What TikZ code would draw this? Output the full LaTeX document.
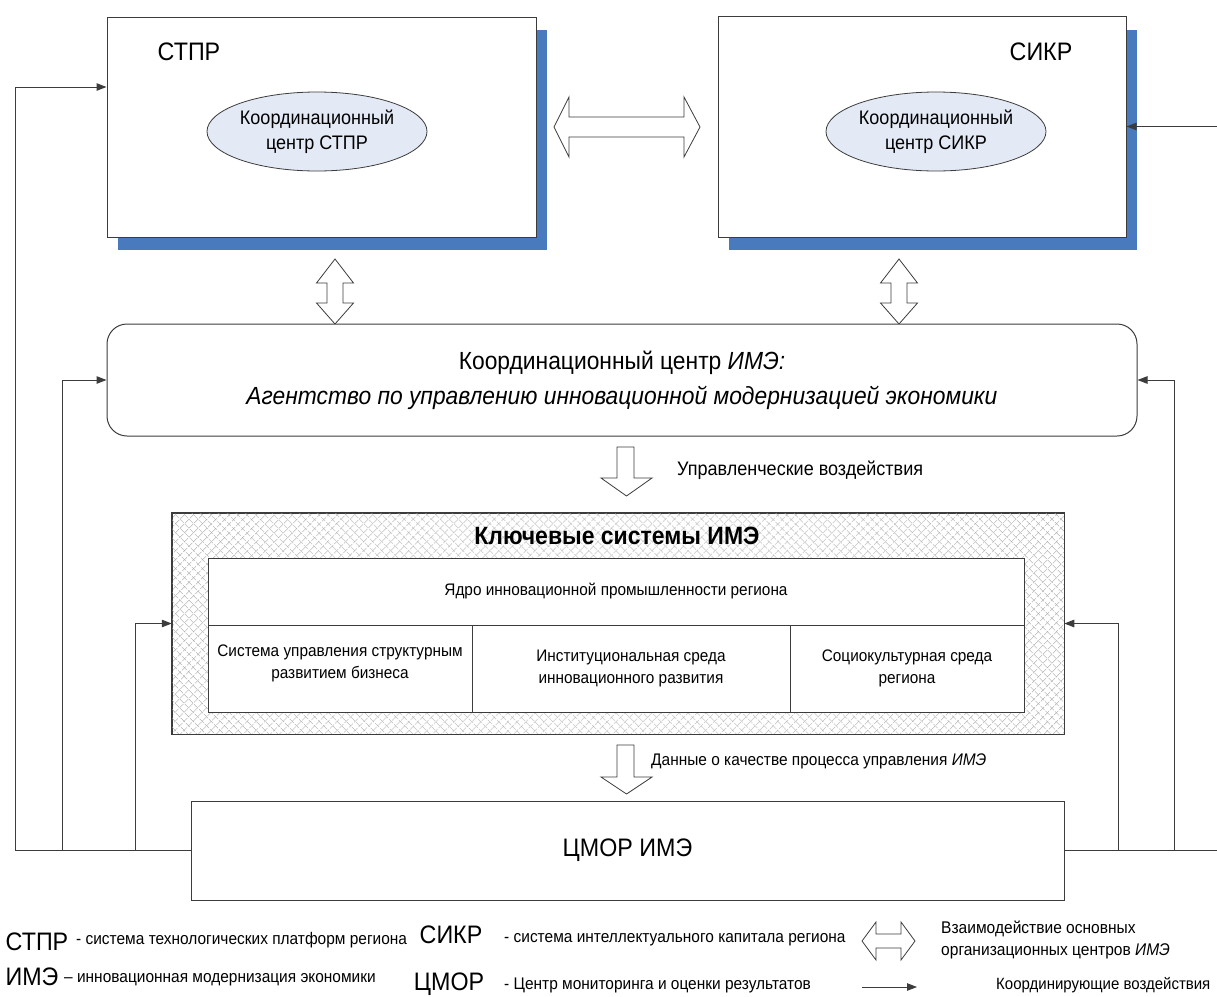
\documentclass[tikz,border=0pt]{standalone}
\usepackage{fontspec}
\setmainfont{Liberation Sans}[FakeStretch=0.92]
\usetikzlibrary{arrows.meta,shapes.geometric,patterns.meta}
\definecolor{shadowblue}{RGB}{74,122,190}
\definecolor{ellfill}{RGB}{228,234,245}
\definecolor{hatchgray}{RGB}{160,160,160}
\definecolor{linegray}{RGB}{60,60,60}
\newcommand{\fsz}[2]{\fontsize{#1}{#2}\selectfont}
\begin{document}
\begin{tikzpicture}[x=1pt,y=-1pt,
  box/.style={draw=linegray, line width=1pt, fill=white, inner sep=0pt},
  ell/.style={draw=linegray, line width=0.8pt, fill=ellfill, ellipse, inner sep=0pt, align=center, font=\fsz{19.6}{25}},
  conn/.style={draw=linegray, line width=1pt, -{Triangle[length=10pt,width=7.5pt]}},
  blockarrow/.style={draw=linegray, line width=0.8pt, fill=white, line join=miter},
  biglbl/.style={font=\fsz{25.3}{30}, inner sep=0pt},
  smalllbl/.style={font=\fsz{16.8}{20}, inner sep=0pt, anchor=west},
  celltext/.style={font=\fsz{16.7}{22}, align=center, inner sep=0pt}]
\useasboundingbox (0,0) rectangle (1217,996);

% top left system
\fill[shadowblue] (118,30) rectangle (547,250);
\node[box, minimum width=429pt, minimum height=220pt] (stpr) at (321.5,127) {};
\node[biglbl] (stprlbl) at (189,52) {СТПР};
\node[ell, minimum width=220pt, minimum height=79pt] (stprell) at (317,131.5) {Координационный\\центр СТПР};

% top right system
\fill[shadowblue] (729,30) rectangle (1137,250);
\node[box, minimum width=408pt, minimum height=221pt] (sikr) at (922,126.5) {};
\node[biglbl] (sikrlbl) at (1041,52) {СИКР};
\node[ell, minimum width=220pt, minimum height=79pt] (sikrell) at (936,131.5) {Координационный\\центр СИКР};

% horizontal double arrow
\draw[blockarrow] (554,127) -- (569,97) -- (569,117) -- (684,117) -- (684,97) -- (700,127)
  -- (684,157) -- (684,137) -- (569,137) -- (569,157) -- cycle;

% vertical double arrows
\foreach \c in {335,899}{
  \draw[blockarrow] (\c,259) -- (\c+18.5,283) -- (\c+8,283) -- (\c+8,303) -- (\c+18.5,303) -- (\c,324)
    -- (\c-18.5,303) -- (\c-8,303) -- (\c-8,283) -- (\c-18.5,283) -- cycle;
}

% coordination centre
\node[box, rounded corners=20pt, minimum width=1030pt, minimum height=112pt,
  align=center, font=\fsz{24.8}{35}] (ime) at (622,380)
  {Координационный центр \textit{ИМЭ:}\\\textit{Агентство по управлению инновационной модернизацией экономики}};

% down arrow 1
\draw[blockarrow] (617,447) -- (634,447) -- (634,478) -- (652,478) -- (626.5,496) -- (601,478) -- (617,478) -- cycle;
\node[font=\fsz{19.6}{22}, anchor=west, inner sep=0pt] (upr) at (677,470) {Управленческие воздействия};

% key systems
\node[draw=linegray, line width=1pt, minimum width=892pt, minimum height=221pt, inner sep=0pt,
  preaction={fill=white},
  pattern={Lines[angle=45,distance=6.5pt,line width=0.5pt]}, pattern color=hatchgray,
  postaction={pattern={Lines[angle=-45,distance=6.5pt,line width=0.5pt]}, pattern color=hatchgray}] (keys) at (618,623.5) {};
\draw[linegray, line width=1pt] (keys.south west) rectangle (keys.north east);
\node[font=\bfseries\fsz{25}{28}, inner sep=0pt] (keystitle) at (617,536) {Ключевые системы ИМЭ};
\node[box, minimum width=816pt, minimum height=67pt, celltext] (core) at (616,591.5) {Ядро инновационной промышленности региона};
\node[box, minimum width=264pt, minimum height=87pt] (c1) at (340,668.5) {};
\node[celltext] (c1t) at (340,663) {Система управления структурным\\развитием бизнеса};
\node[box, minimum width=318pt, minimum height=87pt, celltext] (c2) at (631,668.5) {Институциональная среда\\инновационного развития};
\node[box, minimum width=234pt, minimum height=87pt, celltext] (c3) at (907,668.5) {Социокультурная среда\\региона};

% down arrow 2
\draw[blockarrow] (617,745) -- (634,745) -- (634,777) -- (652,777) -- (626.5,794) -- (601,777) -- (617,777) -- cycle;
\node[font=\fsz{16.8}{20}, anchor=west, inner sep=0pt] (data) at (651,761) {Данные о качестве процесса управления \textit{ИМЭ}};

% monitoring centre
\node[box, minimum width=873pt, minimum height=99pt, font=\fsz{25.3}{28}] (cmor) at (627.5,850.5) {ЦМОР ИМЭ};

% feedback connectors
\coordinate (xL1) at (15,0);
\coordinate (xL2) at (62,0);
\coordinate (xL3) at (135,0);
\coordinate (xR1) at (1218,0);
\coordinate (xR2) at (1174,0);
\coordinate (xR3) at (1118,0);
\draw[conn] (cmor.west) -- (cmor.west -| xL1) |- ([yshift=40pt]stpr.west);
\draw[conn] (cmor.west -| xL2) |- (ime.west);
\draw[conn] (cmor.west -| xL3) |- (keys.west);
\draw[conn] (cmor.east) -- (cmor.east -| xR1) |- (sikr.east);
\draw[conn] (cmor.east -| xR2) |- (ime.east);
\draw[conn] (cmor.east -| xR3) |- (keys.east);

% legend
\node[biglbl] (lg1) at (37,942) {СТПР};
\node[smalllbl] (lg1t) at (76,940) {- система технологических платформ региона};
\node[biglbl] (lg2) at (451,935) {СИКР};
\node[smalllbl] (lg2t) at (504,940) {- система интеллектуального капитала региона};
\node[biglbl] (lg3) at (32,977) {ИМЭ};
\node[smalllbl] (lg3t) at (64,980) {– инновационная модернизация экономики};
\node[biglbl] (lg4) at (449,984) {ЦМОР};
\node[smalllbl] (lg4t) at (504,985) {- Центр мониторинга и оценки результатов};

\draw[blockarrow] (862,941) -- (876,922) -- (876,934) -- (901,934) -- (901,922) -- (915,941)
  -- (901,960) -- (901,948) -- (876,948) -- (876,960) -- cycle;
\node[font=\fsz{16.9}{22}, align=left, anchor=west, inner sep=0pt] (lg5t) at (941,940)
  {Взаимодействие основных\\организационных центров \textit{ИМЭ}};
\coordinate (legA) at (862,987);
\coordinate (legB) at (917,987);
\draw[conn] (legA) -- (legB);
\node[smalllbl, font=\fsz{16.3}{20}] (lg6t) at (996,985) {Координирующие воздействия};
\end{tikzpicture}
\end{document}
